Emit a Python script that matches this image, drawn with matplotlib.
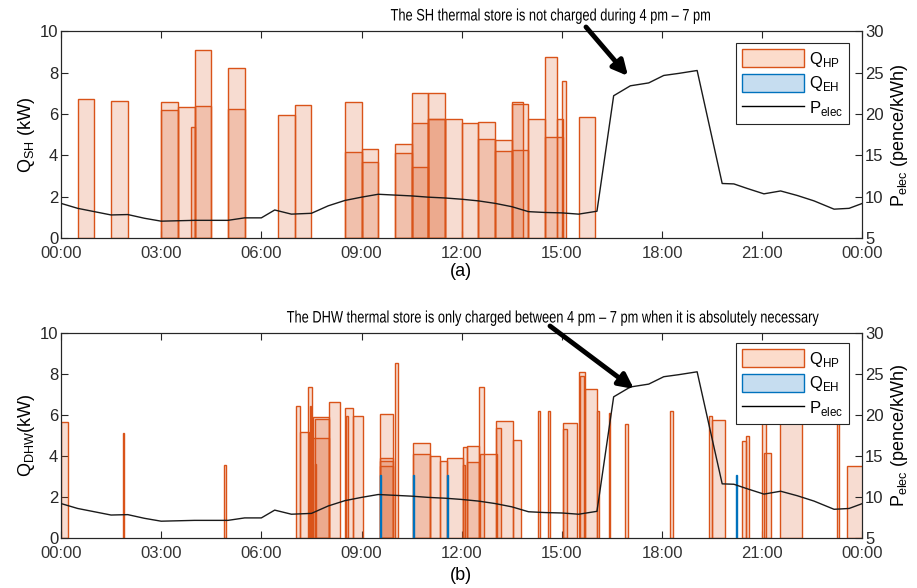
import matplotlib
matplotlib.use("Agg")
import matplotlib.pyplot as plt
from matplotlib.patches import Patch, FancyArrowPatch
from matplotlib.lines import Line2D
from matplotlib.patheffects import AbstractPathEffect
from matplotlib.transforms import Affine2D
import matplotlib.font_manager as fm

# ---------------- data ----------------
tick_hours = [0, 3, 6, 9, 12, 15, 18, 21, 24]
tick_labels = ["00:00", "03:00", "06:00", "09:00", "12:00", "15:00", "18:00", "21:00", "00:00"]

price_hours = [0.0, 0.5, 1.0, 1.5, 2.0, 2.5, 3.0, 3.5, 4.0, 4.5, 5.0, 5.5, 6.0, 6.4, 6.9,
               7.5, 8.0, 8.5, 9.0, 9.5, 10.0, 10.5, 11.0, 11.5, 12.0, 12.5, 13.0, 13.5,
               14.0, 14.5, 15.0, 15.5, 16.05, 16.55, 17.05, 17.6, 18.05, 18.5, 19.05,
               19.8, 20.15, 20.55, 21.05, 21.55, 22.05, 22.55, 23.15, 23.6, 24.0]
price_values = [9.2, 8.6, 8.2, 7.8, 7.85, 7.4, 7.05, 7.1, 7.15, 7.15, 7.15, 7.45, 7.45, 8.4, 7.9,
                8.0, 8.9, 9.55, 9.95, 10.3, 10.2, 10.1, 9.95, 9.85, 9.7, 9.5, 9.2, 8.8,
                8.2, 8.1, 8.05, 7.9, 8.25, 22.2, 23.4, 23.75, 24.65, 24.9, 25.25,
                11.6, 11.55, 11.0, 10.35, 10.7, 10.15, 9.5, 8.5, 8.6, 9.2]

# SH heat pump bars (start hour, width in hours, kW)
sh_hp_start = [0.5, 1.5, 3.0, 3.0, 3.5, 3.9, 4.0, 4.0, 5.0, 5.0, 6.5, 7.0, 8.5, 8.5, 9.0, 9.0,
               10.0, 10.0, 10.5, 10.5, 10.5, 11.0, 11.0, 11.0, 11.5, 12.0, 12.5, 12.5, 13.0, 13.0,
               13.5, 13.5, 13.5, 14.0, 14.5, 14.5, 14.85, 15.0, 15.5]
sh_hp_width = [0.5, 0.5, 0.5, 0.5, 0.5, 0.1, 0.5, 0.5, 0.5, 0.5, 0.5, 0.5, 0.5, 0.5, 0.5, 0.5,
               0.5, 0.5, 0.5, 0.5, 0.5, 0.5, 0.5, 0.5, 0.5, 0.5, 0.5, 0.5, 0.5, 0.5,
               0.5, 0.35, 0.5, 0.5, 0.35, 0.53, 0.18, 0.12, 0.5]
sh_hp_value = [6.7, 6.65, 6.6, 6.17, 6.33, 5.35, 9.1, 6.4, 8.23, 6.23, 5.97, 6.41, 6.6, 4.15, 4.3, 3.69,
               4.53, 4.09, 7.0, 5.56, 3.45, 7.0, 5.77, 5.77, 5.78, 5.54, 5.6, 4.78, 4.72, 4.22,
               6.5, 6.57, 4.28, 5.78, 8.75, 4.9, 5.78, 7.6, 5.85]

# DHW heat pump bars
dhw_hp_start = [0.0, 1.85, 4.88, 7.05, 7.15, 7.4, 7.45, 7.55, 7.6, 7.55, 7.6, 8.03, 8.5, 8.55, 8.75,
                9.55, 9.55, 9.55, 9.55, 10.0, 10.55, 10.55, 11.05, 11.35, 11.55, 12.05, 12.05,
                12.15, 12.15, 12.52, 12.55, 13.03, 13.03, 13.55, 14.27, 14.58, 15.02, 15.02,
                15.5, 15.55, 15.7, 16.05, 16.4, 16.9, 18.25, 19.4, 19.5, 20.4, 20.52, 21.0,
                21.05, 21.52, 23.24, 23.55]
dhw_hp_width = [0.2, 0.05, 0.05, 0.1, 0.28, 0.12, 0.05, 0.48, 0.43, 0.48, 0.05, 0.33, 0.25, 0.05, 0.28,
                0.4, 0.4, 0.4, 0.4, 0.1, 0.5, 0.5, 0.3, 0.2, 0.5, 0.12, 0.05,
                0.37, 0.37, 0.16, 0.5, 0.52, 0.15, 0.23, 0.07, 0.07, 0.43, 0.13,
                0.2, 0.1, 0.35, 0.05, 0.05, 0.07, 0.07, 0.1, 0.37, 0.12, 0.08, 0.1,
                0.2, 0.67, 0.06, 0.5]
dhw_hp_value = [5.65, 5.1, 3.55, 6.42, 5.17, 7.38, 6.42, 5.92, 5.79, 4.86, 3.6, 6.63, 6.36, 5.95, 5.97,
                6.05, 3.89, 3.73, 3.49, 8.52, 4.65, 4.08, 4.0, 3.75, 3.92, 4.45, 3.57,
                4.49, 3.71, 7.38, 4.08, 5.71, 5.35, 4.78, 6.2, 6.2, 5.59, 5.3,
                8.08, 7.9, 7.25, 6.18, 6.1, 5.55, 6.2, 5.95, 5.76, 4.73, 4.98, 6.0,
                4.13, 6.0, 6.0, 3.51]

# DHW electric heater bars
dhw_eh_start = [9.55, 10.55, 11.55, 20.2]
dhw_eh_width = [0.03, 0.03, 0.03, 0.05]
dhw_eh_value = [3.07, 3.07, 3.07, 3.07]

# ---------------- style ----------------
avail = {f.name for f in fm.fontManager.ttflist}
base_font = "Liberation Sans" if "Liberation Sans" in avail else "DejaVu Sans"
plt.rcParams["font.family"] = [base_font, "DejaVu Sans"]
plt.rcParams["mathtext.fontset"] = "custom"
plt.rcParams["mathtext.rm"] = base_font

HP_FACE = (0.85, 0.325, 0.098, 0.2)
HP_EDGE = (0.85, 0.325, 0.098)
EH_FACE = (0.0, 0.447, 0.741, 0.25)
EH_EDGE = (0.0, 0.447, 0.741)
FRAME = "#262626"

FIG_W, FIG_H, DPI = 9.17, 5.88, 100
fig = plt.figure(figsize=(FIG_W, FIG_H), dpi=DPI)
ax_top = fig.add_axes([0.0665, 0.595, 0.874, 0.352])
ax_bot = fig.add_axes([0.0665, 0.085, 0.874, 0.349])


class Condense(AbstractPathEffect):
    """Horizontally compress a text (narrow face) around a display x position."""

    def __init__(self, sx, x0):
        super().__init__()
        self.sx = sx
        self.x0 = x0

    def draw_path(self, renderer, gc, tpath, affine, rgbFace=None):
        aff = affine + Affine2D().translate(-self.x0, 0).scale(self.sx, 1).translate(self.x0, 0)
        renderer.draw_path(gc, tpath, aff, rgbFace)


def draw_panel(ax, hp_s, hp_w, hp_v, eh_s, eh_w, eh_v, ylabel, leg_top):
    ax.bar(hp_s, hp_v, width=hp_w, align="edge", facecolor=HP_FACE,
           edgecolor=HP_EDGE, linewidth=1.0, zorder=2)
    if eh_s:
        ax.bar(eh_s, eh_v, width=eh_w, align="edge", facecolor=EH_FACE,
               edgecolor=EH_EDGE, linewidth=1.0, zorder=3)
    ax.set_xlim(0, 24)
    ax.set_ylim(0, 10)
    ax.set_xticks(tick_hours)
    ax.set_xticklabels(tick_labels)
    ax.set_yticks([0, 2, 4, 6, 8, 10])
    ax.tick_params(direction="in", length=5, width=0.8, colors=FRAME,
                   labelsize=12, top=True, right=False, pad=2)
    ax.tick_params(axis="x", labelcolor="#333333", pad=6)
    for sp in ax.spines.values():
        sp.set_color(FRAME)
        sp.set_linewidth(0.8)
    ax.set_ylabel(ylabel, fontsize=13, labelpad=2)

    ax2 = ax.twinx()
    ax2.plot(price_hours, price_values, color="#1a1a1a", lw=1.0, zorder=4)
    ax2.set_ylim(5, 30)
    ax2.set_yticks([5, 10, 15, 20, 25, 30])
    ax2.tick_params(direction="in", length=5, width=0.8, colors=FRAME,
                    labelsize=12, pad=2)
    for sp in ax2.spines.values():
        sp.set_color(FRAME)
        sp.set_linewidth(0.8)
    ax2.set_ylabel(r"P$_{\mathregular{elec}}$ (pence/kWh)", fontsize=13, labelpad=4)

    handles = [Patch(facecolor="#fcdccb", edgecolor=HP_EDGE, lw=1.0),
               Patch(facecolor="#c6ddf0", edgecolor=EH_EDGE, lw=1.0),
               Line2D([], [], color="black", lw=1.0)]
    labels = [r"Q$_{\mathregular{HP}}$", r"Q$_{\mathregular{EH}}$", r"P$_{\mathregular{elec}}$"]
    leg = ax2.legend(handles, labels, loc="upper right", bbox_to_anchor=(0.983, leg_top),
                     fancybox=False, framealpha=1, edgecolor=FRAME, fontsize=12,
                     handlelength=3.7, handleheight=1.3, handletextpad=0.3,
                     borderpad=0.35, labelspacing=0.3, borderaxespad=0)
    leg.get_frame().set_linewidth(0.8)
    leg.set_zorder(10)
    return ax2


draw_panel(ax_top, sh_hp_start, sh_hp_width, sh_hp_value, [], [], [],
           r"Q$_{\mathregular{SH}}$ (kW)", 0.942)
draw_panel(ax_bot, dhw_hp_start, dhw_hp_width, dhw_hp_value,
           dhw_eh_start, dhw_eh_width, dhw_eh_value,
           r"Q$_{\mathregular{DHW}}$(kW)", 0.95)

fig.text(0.5027, 1 - 271 / 588, "(a)", ha="center", va="center", fontsize=13)
fig.text(0.5027, 1 - 576 / 588, "(b)", ha="center", va="center", fontsize=13)

top_cx, bot_cx = 551, 553
fig.text(top_cx / 917, 1 - 16 / 588, "The SH thermal store is not charged during 4 pm \u2013 7 pm",
         ha="center", va="center", fontsize=12,
         path_effects=[Condense(0.77, top_cx)])
fig.text(bot_cx / 917, 1 - 318 / 588,
         "The DHW thermal store is only charged between 4 pm \u2013 7 pm when it is absolutely necessary",
         ha="center", va="center", fontsize=12,
         path_effects=[Condense(0.77, bot_cx)])

arrow_kw = dict(arrowstyle="-|>", lw=3.5, color="black", mutation_scale=22,
                shrinkA=0, shrinkB=0)
fig.add_artist(FancyArrowPatch(
    (586 / 917, 1 - 27 / 588), (628 / 917, 1 - 76 / 588),
    transform=fig.transFigure, **arrow_kw))
fig.add_artist(FancyArrowPatch(
    (550 / 917, 1 - 326 / 588), (634 / 917, 1 - 389 / 588),
    transform=fig.transFigure, **arrow_kw))

fig.savefig("out.png", dpi=DPI)
